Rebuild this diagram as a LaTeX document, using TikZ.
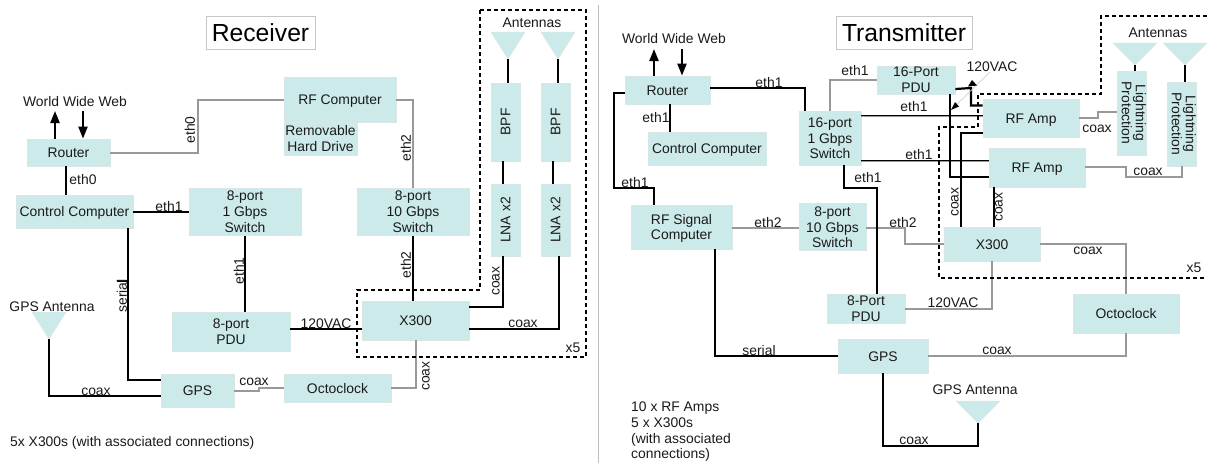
\documentclass[tikz,border=0pt]{standalone}
\usepackage{fontspec}
\setmainfont{Liberation Sans}
\definecolor{boxfill}{HTML}{CDEAEA}
\definecolor{boxedge}{HTML}{D8E6E6}
\definecolor{wire}{HTML}{999999}
\definecolor{ink}{HTML}{1A1A1A}
\usetikzlibrary{arrows.meta}
\tikzset{
  box/.style={draw=boxedge,line width=0.8pt,fill=boxfill,text=ink,inner sep=0pt,align=center,font=\fontsize{13.9}{15.6}\selectfont},
  bk/.style={draw=black,line width=2.2pt,line join=miter},
  bkthin/.style={draw=black,line width=1.4pt},
  gy/.style={draw=wire,line width=1.8pt,line join=miter},
  dsh/.style={draw=black,line width=1.6pt,dash pattern=on 4pt off 3pt},
  lab/.style={text=ink,inner sep=0pt,yshift=-1pt,font=\fontsize{13.9}{15.6}\selectfont},
  labup/.style={text=ink,inner sep=0pt,xshift=-1pt,rotate=90,font=\fontsize{13.9}{15.6}\selectfont},
  ant/.style={fill=boxfill,draw=boxedge,line width=0.5pt},
  ttl/.style={draw=black!22,line width=0.8pt,fill=white,text=black,inner sep=0pt,font=\fontsize{24.7}{28}\selectfont},
  arr/.style={-{Triangle[length=12pt,width=9pt]},line width=2.2pt,draw=black},
}
% \bxt{name}{x1}{y1}{x2}{y2}{extra style}{text}: box from corner to corner
\newcommand{\bxt}[7]{%
  \pgfmathsetmacro{\bxw}{#4-#2}\pgfmathsetmacro{\bxh}{#5-#3}%
  \pgfmathsetmacro{\bxx}{(#2+#4)/2}\pgfmathsetmacro{\bxy}{(#3+#5)/2}%
  \node[box,minimum width=\bxw pt,minimum height=\bxh pt,#6] (#1) at (\bxx,\bxy) {#7};}
% \bx: the same, with its lines of text centred on their capitals
\newcommand{\bx}[7]{\bxt{#1}{#2}{#3}{#4}{#5}{#6}{\rule{0pt}{13pt}#7\rule[-3pt]{0pt}{3pt}}}
\begin{document}
\begin{tikzpicture}[x=1pt,y=-1pt]
\useasboundingbox (0,0) rectangle (1207,463);
\fill[white] (0,0) rectangle (1207,463);

% divider
\coordinate (divt) at (598,5); \coordinate (divb) at (598,463);
\draw[draw=black!25,line width=0.8pt] (divt) -- (divb);

% ---------- Receiver ----------
\bxt{rtitle}{206}{16}{315}{49}{ttl}{Receiver}
\bx{rrouter}{27}{139}{110}{166}{}{Router}
\bx{rcc}{16}{195}{133}{228}{}{Control Computer}
\bx{rsw1}{189}{189}{301}{234}{}{8-port\\1 Gbps\\Switch}
\bx{rsw10}{357}{189}{469}{234}{}{8-port\\10 Gbps\\Switch}
\bx{rrf}{284}{77}{396}{122}{}{RF Computer}
\bx{rhd}{284}{122}{357}{155}{}{Removable\\Hard Drive}
\bx{rpdu}{172}{312}{290}{351}{}{8-port\\PDU}
\bx{rx}{362}{301}{469}{340}{}{X300}
\bx{rgps}{161}{374}{234}{407}{}{GPS}
\bx{rocto}{284}{374}{391}{402}{}{Octoclock}
\bxt{rbpfa}{491}{83}{520}{161}{}{\rotatebox{90}{BPF}}
\bxt{rbpfb}{541}{83}{570}{161}{}{\rotatebox{90}{BPF}}
\bxt{rlnaa}{491}{184}{520}{256}{}{\rotatebox{90}{LNA x2}}
\bxt{rlnab}{541}{184}{570}{256}{}{\rotatebox{90}{LNA x2}}

\coordinate (rgant) at (49,339);
\coordinate (rant1) at (508,59);
\coordinate (rant2) at (558,59);
\path[ant] (32,312) -- (66,312) -- (rgant) -- cycle;
\path[ant] (491,32) -- (525,32) -- (rant1) -- cycle;
\path[ant] (541,32) -- (575,32) -- (rant2) -- cycle;

\coordinate (rwu) at (55,111);
\coordinate (rwd) at (83,111);
\draw[arr] (rrouter.north -| 55,0) -- (rwu);
\draw[arr] (rwd) -- (rrouter.north -| 83,0);
\draw[gy] (rrouter.east |- 0,153) -- (198,153) -- (198,100) -- (rrf.west |- 0,100);
\draw[bk] (rrouter.south -| 66,0) -- (rcc.north -| 66,0);
\draw[bk] (rcc.east |- 0,212) -- (rsw1.west |- 0,212);
\draw[bk] (rcc.south -| 128,0) -- (128,380) -- (rgps.west |- 0,380);
\draw[bk,line width=1.6pt] (117,281) -- (128,281);
\draw[bk] (rsw1.south -| 245,0) -- (rpdu.north -| 245,0);
\draw[bk] (rpdu.east |- 0,329) -- (rx.west |- 0,329);
\draw[bk] (rgant) -- (49,396) -- (rgps.west |- 0,396);
\draw[gy] (rgps.east |- 0,391) -- (259,391) -- (259,388) -- (rocto.west |- 0,388);
\draw[gy] (rocto.east |- 0,388) -- (416,388) -- (rx.south -| 416,0);
\draw[gy] (rrf.east |- 0,100) -- (413,100) -- (rsw10.north -| 413,0);
\draw[bk] (rsw10.south -| 413,0) -- (rx.north -| 413,0);
\draw[bk] (rant1) -- (rbpfa.north -| 508,0);
\draw[bk] (rant2) -- (rbpfb.north -| 558,0);
\draw[bk] (rbpfa.south -| 503,0) -- (rlnaa.north -| 503,0);
\draw[bk] (rbpfb.south -| 553,0) -- (rlnab.north -| 553,0);
\draw[bk] (rlnaa.south -| 503,0) -- (503,307) -- (rx.east |- 0,307);
\draw[bk] (rlnab.south -| 559,0) -- (559,329) -- (rx.east |- 0,329);
\draw[dsh] (480,10) -- (586,10) -- (586,357) -- (357,357) -- (357,290) -- (480,290) -- cycle;

\node[lab] (rl1) at (75,101) {World Wide Web};
\node[labup] (rl2) at (191,130) {eth0};
\node[lab] (rl3) at (83,179) {eth0};
\node[lab] (rl4) at (169,206) {eth1};
\node[labup] (rl5) at (407,148) {eth2};
\node[labup] (rl6) at (407,265) {eth2};
\node[labup] (rl7) at (240,271) {eth1};
\node[labup] (rl8) at (123,296) {serial};
\node[lab] (rl9) at (326,323) {120VAC};
\node[lab] (rl10) at (96,391) {coax};
\node[lab] (rl11) at (254,381) {coax};
\node[labup] (rl12) at (427,376) {coax};
\node[labup] (rl13) at (497,281) {coax};
\node[lab] (rl14) at (523,323) {coax};
\node[lab] (rl15) at (573,347) {x5};
\node[lab] (rl16) at (532,22) {Antennas};
\node[lab] (rl17) at (52,306) {GPS Antenna};
\node[lab,anchor=west] (rl18) at (10,442) {5x X300s (with associated connections)};

% ---------- Transmitter ----------
\bxt{ttitle}{836}{16}{972}{49}{ttl}{Transmitter}
\bx{trouter}{625}{76}{710}{104}{}{Router}
\bx{tcc}{648}{132}{766}{165}{}{Control Computer}
\bx{trf}{631}{205}{732}{249}{}{RF Signal\\Computer}
\bx{tsw1}{799}{111}{861}{165}{}{16-port\\1 Gbps\\Switch}
\bx{tsw10}{799}{205}{866}{249}{}{8-port\\10 Gbps\\Switch}
\bxt{tpdu}{877}{66}{955}{94}{}{16-Port\\PDU}
\bx{tamp1}{983}{99}{1079}{137}{}{RF Amp}
\bx{tamp2}{989}{148}{1085}{187}{}{RF Amp}
\bx{tx}{944}{227}{1040}{261}{}{X300}
\bxt{tlp1}{1118}{71}{1146}{155}{}{\rotatebox{-90}{\begin{tabular}{@{}c@{}}Lightning\\[-1.5pt]Protection\end{tabular}}}
\bxt{tlp2}{1168}{82}{1196}{166}{}{\rotatebox{-90}{\begin{tabular}{@{}c@{}}Lightning\\[-1.5pt]Protection\end{tabular}}}
\bx{tocto}{1073}{294}{1179}{333}{}{Octoclock}
\bxt{tpdu8}{827}{294}{905}{323}{}{8-Port\\PDU}
\bx{tgps}{838}{339}{928}{373}{}{GPS}

\coordinate (tant1) at (1135,65);
\coordinate (tant2) at (1185,65);
\coordinate (tgant) at (978,423);
\path[ant] (1113,43) -- (1157,43) -- (tant1) -- cycle;
\path[ant] (1163,43) -- (1207,43) -- (tant2) -- cycle;
\path[ant] (956,401) -- (1000,401) -- (tgant) -- cycle;

\coordinate (twu) at (654,49);
\coordinate (twd) at (682,49);
\draw[arr] (trouter.north -| 654,0) -- (twu);
\draw[arr] (twd) -- (trouter.north -| 682,0);
\draw[bk] (trouter.east |- 0,88) -- (805,88) -- (tsw1.north -| 805,0);
\draw[bk] (trouter.west |- 0,93) -- (614,93) -- (614,188) -- (654,188) -- (trf.north -| 654,0);
\draw[bk] (trouter.south -| 670,0) -- (tcc.north -| 670,0);
\draw[gy] (trf.east |- 0,228) -- (tsw10.west |- 0,228);
\draw[gy] (tsw10.east |- 0,228) -- (905,228) -- (905,244) -- (tx.west |- 0,244);
\draw[gy] (tsw1.north -| 830,0) -- (830,80) -- (tpdu.west |- 0,80);
\draw[gy] (tsw1.east |- 0,116.5) -- (tamp1.west |- 0,116.5);
\draw[bk,line width=1.4pt] (tsw1.east |- 0,115.5) -- (tamp1.west |- 0,115.5);
\draw[gy] (tsw1.east |- 0,161.5) -- (tamp2.west |- 0,161.5);
\draw[bk,line width=1.4pt] (tsw1.east |- 0,160.5) -- (tamp2.west |- 0,160.5);
\draw[bk] (tsw1.south -| 844,0) -- (844,188) -- (877,188) -- (tpdu8.north -| 877,0);
\draw[bk] (tpdu.east |- 0,89) -- (971,88) -- (971,105.5) -- (tamp1.west |- 0,105.5);
\draw[bk] (tpdu.south -| 950,0) -- (950,177) -- (tamp2.west |- 0,177);
\draw[bk] (tamp1.west |- 0,133) -- (961,133) -- (tx.north -| 961,0);
\draw[bkthin] (tamp2.south -| 994,0) -- (tx.north -| 994,0);
\draw[gy] (tamp1.east |- 0,118) -- (1098,118) -- (1098,112) -- (tlp1.west |- 0,112);
\draw[gy] (tamp2.east |- 0,167) -- (1126,167) -- (1126,177) -- (1182,177) -- (tlp2.south -| 1182,0);
\draw[bk] (tant1) -- (tlp1.north -| 1135,0);
\draw[bk] (tant2) -- (tlp2.north -| 1185,0);
\draw[gy] (tx.east |- 0,244) -- (1126,244) -- (tocto.north -| 1126,0);
\draw[gy] (tx.south -| 992,0) -- (992,309) -- (tpdu8.east |- 0,309);
\draw[gy] (tocto.south -| 1126,0) -- (1126,356) -- (tgps.east |- 0,356);
\draw[bk] (trf.south -| 715,0) -- (715,356) -- (tgps.west |- 0,356);
\draw[bk] (tgps.south -| 883,0) -- (883,446) -- (978,446) -- (tgant);
\draw[dsh] (1207,16) -- (1101,16) -- (1101,94) -- (978,94) -- (978,127) -- (939,127) -- (939,278) -- (1207,278);

% 120VAC call-out
\coordinate (tcall) at (990,72);
\coordinate (tcallend) at (952,109);
\draw[draw=black!18,line width=0.7pt] (tcall) -- (tcallend);
\fill[black] (972,80) -- (968,86.5) -- (977,85.5) -- cycle;
\fill[black] (951,110) -- (959,106.5) -- (955,102) -- cycle;

\node[lab] (tl1) at (674,38) {World Wide Web};
\node[lab] (tl2) at (769,82) {eth1};
\node[lab] (tl3) at (656,117) {eth1};
\node[lab] (tl4) at (635,182) {eth1};
\node[lab] (tl5) at (768,222) {eth2};
\node[lab] (tl6) at (903,222) {eth2};
\node[lab] (tl7) at (855,70) {eth1};
\node[lab] (tl8) at (914,106) {eth1};
\node[lab] (tl9) at (919,154) {eth1};
\node[lab] (tl10) at (868,177) {eth1};
\node[lab] (tl11) at (992,66) {120VAC};
\node[labup] (tl12) at (956,202) {coax};
\node[labup] (tl13) at (1000,207) {coax};
\node[lab] (tl14) at (1097,128) {coax};
\node[lab] (tl15) at (1148,171) {coax};
\node[lab] (tl16) at (1088,250) {coax};
\node[lab] (tl17) at (953,302) {120VAC};
\node[lab] (tl18) at (997,350) {coax};
\node[lab] (tl19) at (759,350) {serial};
\node[lab] (tl20) at (914,440) {coax};
\node[lab] (tl21) at (975,389) {GPS Antenna};
\node[lab] (tl22) at (1158,32) {Antennas};
\node[lab] (tl23) at (1194,267) {x5};
\node[lab,anchor=north west,align=left] (tl24) at (631,401) {10 x RF Amps\\5 x X300s\\(with associated\\connections)};
\end{tikzpicture}
\end{document}
